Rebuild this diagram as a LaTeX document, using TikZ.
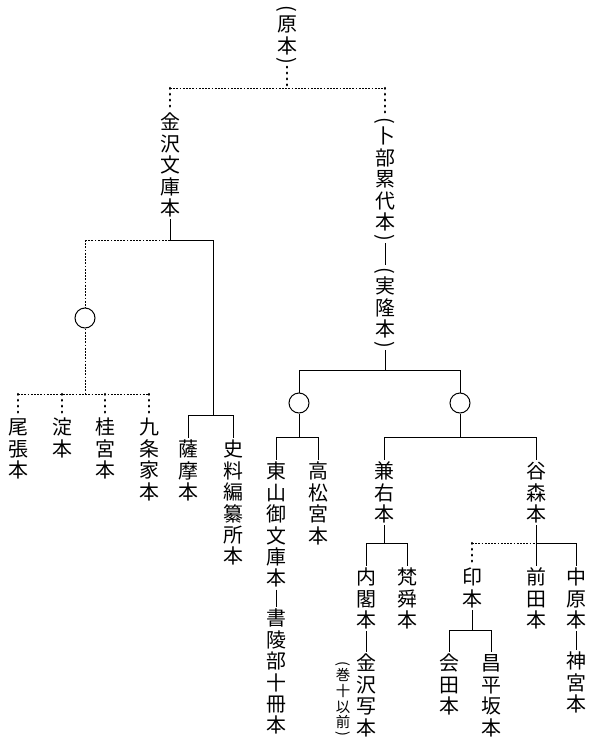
\documentclass[tikz,border=0pt]{standalone}
\usepackage{fontspec}
\usepackage{graphicx}
\newfontfamily\cjk{Noto Sans CJK JP}
\makeatletter
\newsavebox\vt@box
\newcommand\vtch[1]{\hbox to 1.1em{\hss\vrule height 0.9175em depth 0.1575em width 0pt\relax#1\hss}}
\newcommand\vtpar[1]{\sbox\vt@box{\rotatebox{-90}{#1}}\hbox to 1.1em{\hss\vrule height 0.25em depth 0.25em width 0pt\raisebox{0.5\dp\vt@box}{\usebox\vt@box}\hss}}
\def\vt@loop#1{\ifx#1\relax\else\ifx#1(\vtpar{(}\else\ifx#1)\vtpar{)}\else\vtch{#1}\fi\fi\expandafter\vt@loop\fi}
\newcommand\vtext[1]{\vbox{\offinterlineskip\vt@loop#1\relax}}
\makeatother
\tikzset{
 vt/.style={font=\cjk\fontsize{20}{22}\selectfont, inner sep=0pt, anchor=north},
 vts/.style={font=\cjk\fontsize{14.5}{15}\selectfont, inner sep=0pt, anchor=north},
 fdash/.style={line width=0.9bp, dash pattern=on 1.8bp off 1.4bp},
 bdots/.style={line width=2.4bp, line cap=round, dash pattern=on 0.7bp off 5.2bp},
 ring/.style={circle, draw, line width=1bp, minimum size=20bp, inner sep=0pt},
}
\begin{document}
\begin{tikzpicture}[x=1bp,y=-1bp,line width=1bp]
\fill[white] (0,0) rectangle (594,738);
\useasboundingbox (0,0) rectangle (594,738);
% nodes
\node[vt] (hara) at (287,3) {\vtext{(原本)}};
\node[vt] (kanazawa) at (170,111) {\vtext{金沢文庫本}};
\node[vt] (urabe) at (385,115) {\vtext{(卜部累代本)}};
\node[vt] (sanetaka) at (385,265) {\vtext{(実隆本)}};
\node[ring] (c1) at (85,318) {};
\node[ring] (c2) at (299,403) {};
\node[ring] (c3) at (460,403) {};
\node[vt] (owari) at (18,416) {\vtext{尾張本}};
\node[vt] (yodo) at (62,416) {\vtext{淀本}};
\node[vt] (katsura) at (105,416) {\vtext{桂宮本}};
\node[vt] (kujo) at (149,416) {\vtext{九条家本}};
\node[vt] (satsuma) at (188,438) {\vtext{薩摩本}};
\node[vt] (shiryo) at (233,438) {\vtext{史料編纂所本}};
\node[vt] (higashi) at (276,460) {\vtext{東山御文庫本}};
\node[vt] (shoryo) at (276,607) {\vtext{書陵部十冊本}};
\node[vt] (takamatsu) at (318,460) {\vtext{高松宮本}};
\node[vt] (kaneyu) at (384,460) {\vtext{兼右本}};
\node[vt] (naikaku) at (366,566) {\vtext{内閣本}};
\node[vt] (kanasha) at (366,652) {\vtext{金沢写本}};
\node[vts] (maki) at (343,660) {\vtext{(巻十以前)}};
\node[vt] (bonshun) at (407,566) {\vtext{梵舜本}};
\node[vt] (tanimori) at (536,460) {\vtext{谷森本}};
\node[vt] (inbon) at (472,566) {\vtext{印本}};
\node[vt] (aida) at (449,652) {\vtext{会田本}};
\node[vt] (shohei) at (491,652) {\vtext{昌平坂本}};
\node[vt] (maeda) at (536,566) {\vtext{前田本}};
\node[vt] (nakahara) at (576,566) {\vtext{中原本}};
\node[vt] (jingu) at (576,650) {\vtext{神宮本}};
% junction coordinates
\coordinate (j0) at (287,88);
\coordinate (jL) at (170,88);
\coordinate (jR) at (385,88);
\coordinate (k1) at (170,240);
\coordinate (k1L) at (85,240);
\coordinate (k1R) at (213,240);
\coordinate (k2) at (213,415);
\coordinate (s1) at (188,415);
\coordinate (s2) at (233,415);
\coordinate (o0) at (85,394);
\coordinate (o1) at (18,394);
\coordinate (o2) at (62,394);
\coordinate (o3) at (105,394);
\coordinate (o4) at (149,394);
\coordinate (r1) at (385,370);
\coordinate (r1L) at (299,370);
\coordinate (r1R) at (460,370);
\coordinate (r2) at (299,437);
\coordinate (r2L) at (276,437);
\coordinate (r2R) at (318,437);
\coordinate (r3) at (460,437);
\coordinate (r3L) at (384,437);
\coordinate (r3R) at (536,437);
\coordinate (r4) at (384,543);
\coordinate (r4L) at (366,543);
\coordinate (r4R) at (407,543);
\coordinate (r5L) at (472,543);
\coordinate (r5) at (536,543);
\coordinate (r5R) at (576,543);
\coordinate (r6) at (472,630);
\coordinate (r6L) at (449,630);
\coordinate (r6R) at (491,630);
% top
\draw[bdots] (hara.south) -- (j0);
\draw[fdash] (jL) -- (jR);
\draw[bdots] (jL) -- (kanazawa.north);
\draw[bdots] (jR) -- (urabe.north);
% left
\draw (kanazawa.south) -- (k1);
\draw[fdash] (k1) -- (k1L);
\draw (k1) -- (k1R) -- (k2);
\draw[fdash] (k1L) -- (c1.north);
\draw[fdash] (c1.south) -- (o0);
\draw[fdash] (o1) -- (o4);
\draw[bdots] (o1) -- (owari.north);
\draw[bdots] (o2) -- (yodo.north);
\draw[bdots] (o3) -- (katsura.north);
\draw[bdots] (o4) -- (kujo.north);
\draw (s1) -- (s2);
\draw (s1) -- (satsuma.north);
\draw (s2) -- (shiryo.north);
% right
\draw (urabe.south) -- (sanetaka.north);
\draw (sanetaka.south) -- (r1);
\draw (r1L) -- (r1R);
\draw (r1L) -- (c2.north);
\draw (r1R) -- (c3.north);
\draw (c2.south) -- (r2);
\draw (r2L) -- (r2R);
\draw (r2L) -- (higashi.north);
\draw (r2R) -- (takamatsu.north);
\draw (higashi.south) -- (shoryo.north);
\draw (c3.south) -- (r3);
\draw (r3L) -- (r3R);
\draw (r3L) -- (kaneyu.north);
\draw (r3R) -- (tanimori.north);
\draw (kaneyu.south) -- (r4);
\draw (r4L) -- (r4R);
\draw (r4L) -- (naikaku.north);
\draw (r4R) -- (bonshun.north);
\draw (naikaku.south) -- (kanasha.north);
\draw (tanimori.south) -- (maeda.north);
\draw[fdash] (r5L) -- (r5);
\draw (r5) -- (r5R);
\draw[bdots] (r5L) -- (inbon.north);
\draw (r5R) -- (nakahara.north);
\draw (inbon.south) -- (r6);
\draw (r6L) -- (r6R);
\draw (r6L) -- (aida.north);
\draw (r6R) -- (shohei.north);
\draw (nakahara.south) -- (jingu.north);
\end{tikzpicture}
\end{document}
